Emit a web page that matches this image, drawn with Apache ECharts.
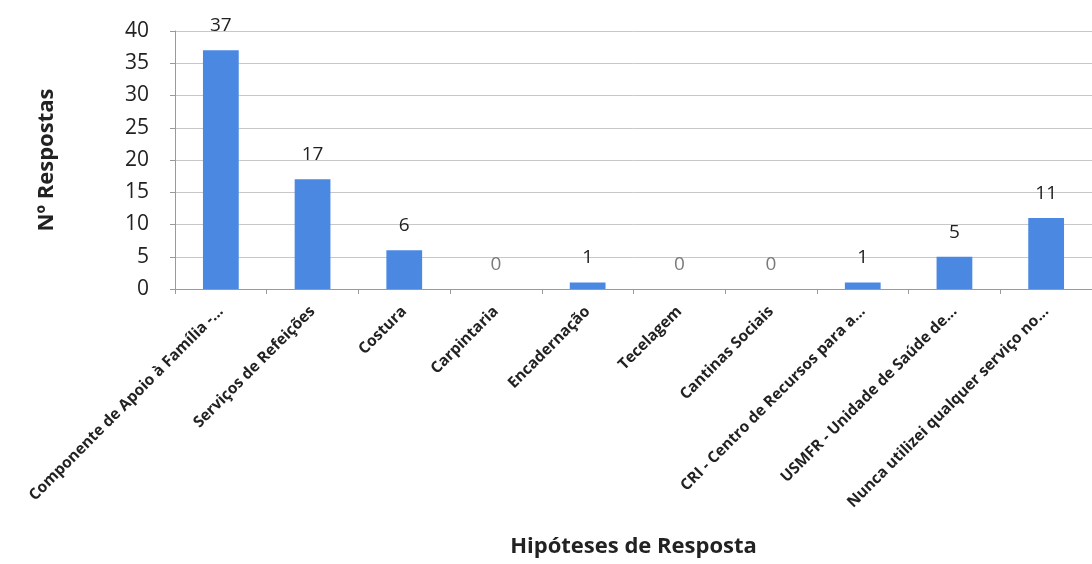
<!DOCTYPE html>
<html><head><meta charset="utf-8">
<script src="https://cdn.jsdelivr.net/npm/echarts@6/dist/echarts.min.js"></script>
<style>html,body{margin:0;padding:0;background:#fff}#c{width:1092px;height:564px}</style>
</head><body><div id="c"></div>
<script>
const categories = ["Componente de Apoio à Família -...", "Serviços de Refeições", "Costura", "Carpintaria", "Encadernação", "Tecelagem", "Cantinas Sociais", "CRI - Centro de Recursos para a...", "USMFR - Unidade de Saúde de...", "Nunca utilizei qualquer serviço no..."];
const values = [37, 17, 6, 0, 1, 0, 0, 1, 5, 11];
const yTicks = [0, 5, 10, 15, 20, 25, 30, 35, 40];
const yTitle = "Nº Respostas";
const xTitle = "Hipóteses de Resposta";

const chart = echarts.init(document.getElementById('c'));
const font = "'Open Sans', sans-serif";
chart.setOption({
  animation: false,
  grid: {left: 175, top: 31, width: 928, height: 258, containLabel: false},
  xAxis: {
    type: 'category', data: categories,
    name: xTitle, nameLocation: 'middle', nameGap: 247,
    nameTextStyle: {fontFamily: font, fontSize: 22, fontWeight: 'bold', color: '#222'},
    axisLine: {lineStyle: {color: '#9a9a9a'}},
    axisTick: {show: true, alignWithLabel: false, length: 5, lineStyle: {color: '#9a9a9a'}},
    axisLabel: {rotate: 45, interval: 0, margin: 20, fontFamily: font, fontSize: 15.5, fontWeight: 'bold', color: '#222'}
  },
  yAxis: {
    type: 'value', min: yTicks[0], max: yTicks[yTicks.length-1], interval: yTicks[1]-yTicks[0],
    name: yTitle, nameLocation: 'middle', nameGap: 117, nameRotate: 90,
    nameTextStyle: {fontFamily: font, fontSize: 22, fontWeight: 'bold', color: '#222'},
    axisLine: {show: true, lineStyle: {color: '#9a9a9a'}},
    axisTick: {show: true, length: 5, lineStyle: {color: '#9a9a9a'}},
    axisLabel: {fontFamily: font, fontSize: 21, color: '#222', margin: 26},
    splitLine: {lineStyle: {color: '#c8c8c8'}}
  },
  series: [{
    type: 'bar', barWidth: '39%',
    data: values.map(v => v === 0 ? {value: v, label: {color: '#7a7a7a'}} : v),
    itemStyle: {color: '#4a88e2'},
    label: {show: true, position: 'top', distance: 15, fontFamily: font, fontSize: 19, color: '#222'}
  }]
});
</script></body></html>
